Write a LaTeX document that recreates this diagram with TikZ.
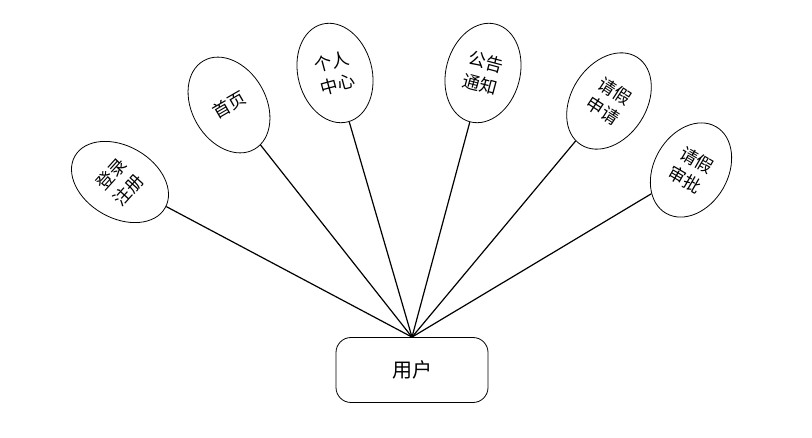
\documentclass[tikz,border=0pt]{standalone}
\usepackage{fontspec}
\newfontfamily\cjk{Noto Sans CJK SC}
\usetikzlibrary{shapes.geometric}
\begin{document}
\begin{tikzpicture}[x=1pt,y=-1pt,
  bub/.style={ellipse,draw,line width=0.8pt,inner sep=0pt,fill=white},
  lbl/.style={font=\cjk\fontsize{17.5}{23}\selectfont,align=center,inner sep=0pt},
  link/.style={line width=1.2pt}]
\useasboundingbox[fill=white] (0,0) rectangle (812,438);
\node[draw,line width=0.8pt,rounded corners=15pt,minimum width=152pt,minimum height=65pt,
      font=\cjk\fontsize{20}{24}\selectfont] (u) at (412,370) {用户};
\node[bub,minimum width=72pt,minimum height=104pt,rotate=60] (e1) at (120,182) {};
\node[bub,minimum width=74pt,minimum height=102pt,rotate=30] (e2) at (229,105) {};
\node[bub,minimum width=74pt,minimum height=101pt,rotate=15] (e3) at (335,73) {};
\node[bub,minimum width=74pt,minimum height=101pt,rotate=-15] (e4) at (483,73) {};
\node[bub,minimum width=75pt,minimum height=104pt,rotate=-33] (e5) at (609,101) {};
\node[bub,minimum width=74pt,minimum height=100pt,rotate=-30] (e6) at (691,170) {};
\node[lbl,rotate=48] (t1) at (e1.center) {登录\\注册};
\node[lbl,rotate=30] (t2) at (e2.center) {首页};
\node[lbl,rotate=15] (t3) at (e3.center) {个人\\中心};
\node[lbl,rotate=-15] (t4) at (e4.center) {公告\\通知};
\node[lbl,rotate=-33] (t5) at (e5.center) {请假\\申请};
\node[lbl,rotate=-30] (t6) at (e6.center) {请假\\审批};
\foreach \e in {e1,e2,e3,e4,e5,e6} \draw[link] (\e) -- (u.north);
\end{tikzpicture}
\end{document}
